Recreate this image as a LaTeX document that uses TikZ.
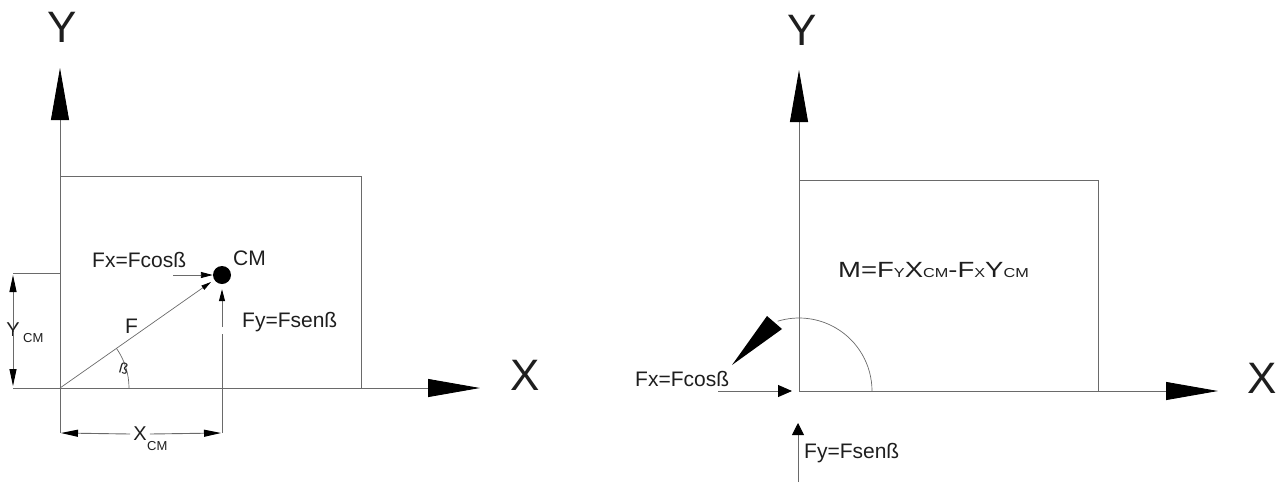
\documentclass[tikz,border=0pt]{standalone}
\usepackage{fontspec}
\setmainfont{Liberation Sans}
\usetikzlibrary{arrows.meta}
\definecolor{ln}{HTML}{6A6A6A}
\definecolor{tx}{HTML}{1E1E1E}
\newcommand{\sm}[1]{{\fontsize{13}{13}\selectfont #1}}
\begin{document}
\begin{tikzpicture}[x=1pt,y=-1pt,
  ln/.style={draw=ln,line width=0.9pt},
  axisarrow/.style={ln,-{Triangle[length=52pt,width=18pt,color=black]}},
  smallarrow/.style={ln,-{Triangle[length=12pt,width=6pt,color=black]}},
  dimarrow/.style={ln,-{Triangle[length=17pt,width=7pt,color=black]}},
  midarrow/.style={ln,-{Triangle[length=14pt,width=12pt,color=black]}},
  lbl/.style={inner sep=0pt,text=tx,anchor=base west,font=\fontsize{21}{21}\selectfont},
  biglbl/.style={inner sep=0pt,text=tx,anchor=base,font=\fontsize{44}{44}\selectfont},
]
\useasboundingbox (0,0) rectangle (1285,483);

% ---------------- left diagram ----------------
\coordinate (O1) at (60,388);
\coordinate (Ybot1) at (60,433);
\coordinate (Ytip1) at (60,68);
\coordinate (Xl1) at (13,388);
\coordinate (Xtip1) at (480,388);
\coordinate (R1a) at (60,176);
\coordinate (R1b) at (361,388);
\draw[ln] (R1a) rectangle (R1b);
\draw[ln] (Ybot1) -- (O1);
\draw[axisarrow] (O1) -- (Ytip1);
\draw[ln] (Xl1) -- (O1);
\draw[axisarrow] (O1) -- (Xtip1);
\node[biglbl] (Y1) at (62,42) {Y};
\node[biglbl] (X1) at (525,390) {X};

% Y_CM dimension
\coordinate (yext) at (13,273);
\coordinate (yext2) at (60,273);
\coordinate (ytop) at (13,275);
\coordinate (ybot) at (13,386);
\draw[ln] (yext) -- (yext2);
\node[inner sep=0pt,text=tx,font=\fontsize{20}{20}\selectfont] (ycmY) at (13,330) {Y};
\node[inner sep=0pt,text=tx,anchor=base west,font=\fontsize{13}{13}\selectfont] (ycmC) at (23,342) {CM};
\draw[dimarrow] ([yshift=-5pt]ycmY.north) -- (ytop);
\draw[dimarrow] ([yshift=5pt]ycmY.south) -- (ybot);

% X_CM dimension
\coordinate (xl) at (61,433);
\coordinate (xr) at (221,433);
\coordinate (xext) at (222,433);
\node[inner sep=0pt,text=tx,font=\fontsize{20}{20}\selectfont] (xcmX) at (140,434) {X};
\node[inner sep=0pt,text=tx,anchor=base west,font=\fontsize{13}{13}\selectfont] (xcmC) at (147,450) {CM};
\draw[dimarrow] ([xshift=-3pt]xcmX.west) -- (xl);
\draw[dimarrow] ([xshift=3pt]xcmX.east) -- (xr);

% CM point and forces
\node[circle,fill=black,minimum size=18pt,inner sep=0pt] (cm) at (222,275) {};
\coordinate (fyb) at (222,334);
\coordinate (fys) at (222,327);
\coordinate (fxs) at (173,275);
\coordinate (Ftip) at (211,282);
\draw[ln] (xext) -- (fyb);
\draw[smallarrow,shorten >=5pt] (fys) -- (cm.south);
\draw[smallarrow] (fxs) -- (cm.west);
\draw[ln,line width=0.7pt,-{Triangle[length=10pt,width=5pt,color=black]}] (O1) -- (Ftip);
\coordinate (arcs) at (129,388);
\draw[ln,line width=0.7pt] (arcs) arc[start angle=0,end angle=35,radius=69pt];

\node[lbl] (fxl) at (92,267) {Fx=Fcosß};
\node[lbl] (cml) at (233,265) {CM};
\node[lbl] (fyl) at (242,327) {Fy=Fsenß};
\node[lbl] (fl) at (125,333) {F};
\node[inner sep=0pt,text=tx,font=\fontsize{15}{15}\selectfont,rotate=-15] (beta) at (124,368) {ß};

% ---------------- right diagram ----------------
\coordinate (O2) at (799,391);
\coordinate (Ytip2) at (799,70);
\coordinate (Xtip2) at (1218,391);
\coordinate (R2a) at (799,180);
\coordinate (R2b) at (1098,391);
\draw[ln] (R2a) rectangle (R2b);
\draw[axisarrow] (O2) -- (Ytip2);
\draw[axisarrow] (O2) -- (Xtip2);
\node[biglbl] (Y2) at (802,45) {Y};
\node[biglbl] (X2) at (1262,393) {X};

\coordinate (fx2s) at (718,391);
\coordinate (fx2e) at (792,391);
\draw[midarrow] (fx2s) -- (fx2e);
\coordinate (fy2s) at (798,482);
\coordinate (fy2e) at (798,423);
\draw[ln,-{Triangle[length=12pt,width=12pt,color=black]}] (fy2s) -- (fy2e);

\coordinate (arc2) at (872,391);
\draw[ln,line width=0.7pt] (arc2) arc[start angle=0,end angle=107,radius=73pt];
\coordinate (w1) at (767,316);
\coordinate (w2) at (782,329);
\coordinate (w3) at (732,365);
\fill[black] (w1) -- (w2) -- (w3) -- cycle;

\node[lbl] (fx2l) at (635,386) {Fx=Fcosß};
\node[lbl] (fy2l) at (804,458) {Fy=Fsenß};
\node[lbl,font=\fontsize{22}{22}\selectfont] (mf) at (838,277)
  {\scalebox{1.25}[1]{M=F\sm{Y}X\sm{CM}-F\sm{X}Y\sm{CM}}};
\end{tikzpicture}
\end{document}
